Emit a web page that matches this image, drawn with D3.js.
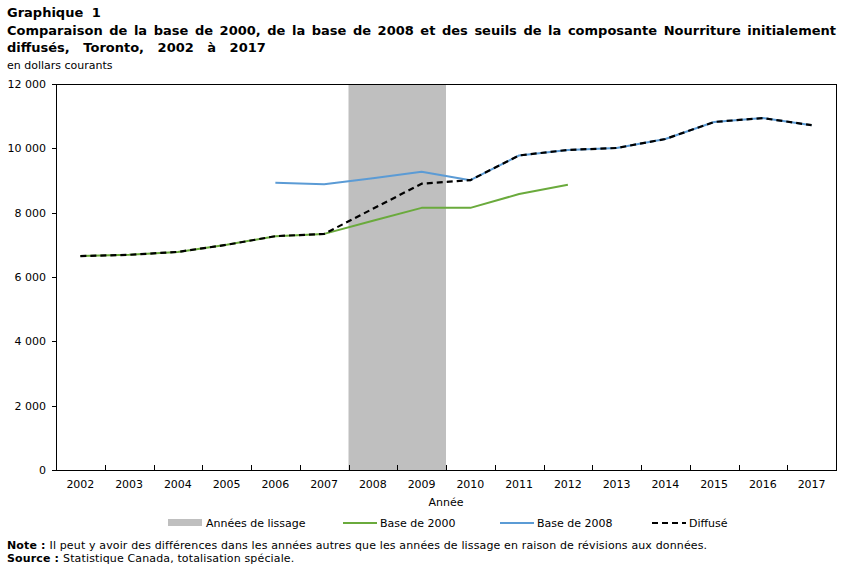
<!DOCTYPE html>
<html><head><meta charset="utf-8">
<script src="https://cdn.jsdelivr.net/npm/d3@7/dist/d3.min.js"></script>
<style>body{margin:0;background:#fff}svg{display:block}text{font-family:"DejaVu Sans",Verdana,sans-serif}</style>
</head><body><svg id="c" width="852" height="567"></svg>
<script>
const years = [2002,2003,2004,2005,2006,2007,2008,2009,2010,2011,2012,2013,2014,2015,2016,2017];
const base2000 = [6650,6690,6780,7000,7270,7340,7750,8150,8150,8580,8870,null,null,null,null,null];
const base2008 = [null,null,null,null,8930,8880,9070,9270,9010,9780,9950,10010,10290,10820,10940,10720];
const diffuse  = [6650,6690,6780,7000,7270,7340,8120,8900,9010,9780,9950,10010,10290,10820,10940,10720];
const smoothYears = [2008,2009];
const yTicks = [0,2000,4000,6000,8000,10000,12000];

const svg = d3.select("#c");
const L=56,R=836,T=84,B=470;
const x = d3.scaleBand().domain(years).range([L,R]);
const y = d3.scaleLinear().domain([0,12000]).range([B,T]);
const fmt = v => d3.format(",")(v).replace(/,/g," ");

function justify(sel,width){
  const n=sel.node(); const len=n.getComputedTextLength();
  const spaces=(sel.text().match(/ /g)||[]).length;
  if(spaces) sel.attr("word-spacing",(width-len)/spaces);
}
svg.append("text").attr("x",7).attr("y",17).attr("font-size",13).attr("font-weight","bold").attr("word-spacing",4).text("Graphique 1");
const t2=svg.append("text").attr("x",7).attr("y",35).attr("font-size",13).attr("font-weight","bold")
  .text("Comparaison de la base de 2000, de la base de 2008 et des seuils de la composante Nourriture initialement");
justify(t2,829);
svg.append("text").attr("x",7).attr("y",52).attr("font-size",13).attr("font-weight","bold").attr("word-spacing",9).text("diffusés, Toronto, 2002 à 2017");
svg.append("text").attr("x",7).attr("y",69).attr("font-size",11).text("en dollars courants");

svg.append("rect").attr("x",x(smoothYears[0])).attr("y",T)
  .attr("width",x(smoothYears[1])+x.bandwidth()-x(smoothYears[0])).attr("height",B-T).attr("fill","#bfbfbf");

svg.append("rect").attr("x",L).attr("y",T).attr("width",R-L).attr("height",B-T).attr("fill","none").attr("stroke","#000").attr("stroke-width",1)
  .attr("shape-rendering","crispEdges");

const ya = svg.append("g").attr("transform",`translate(${L},0)`)
  .call(d3.axisLeft(y).tickValues(yTicks).tickSize(4).tickPadding(6).tickFormat(fmt));
ya.select(".domain").remove();
ya.selectAll("line").attr("shape-rendering","crispEdges");
ya.selectAll("text").attr("font-size",11).attr("font-family","DejaVu Sans").attr("fill","#000");

const xa = svg.append("g").attr("transform",`translate(0,${B})`)
  .call(d3.axisBottom(x).tickSize(0).tickPadding(10));
xa.select(".domain").remove();
xa.selectAll("text").attr("font-size",11).attr("font-family","DejaVu Sans").attr("fill","#000");
svg.append("g").selectAll("line").data(years.slice(1)).join("line")
  .attr("x1",d=>Math.round(x(d))+0.5).attr("x2",d=>Math.round(x(d))+0.5).attr("y1",B).attr("y2",B-5).attr("stroke","#000");
svg.append("text").attr("x",(L+R)/2).attr("y",506).attr("text-anchor","middle").attr("font-size",11).text("Année");

function draw(vals,color,dash,w){
  const line=d3.line().defined(d=>d!=null).x((d,i)=>x(years[i])+x.bandwidth()/2).y(d=>y(d));
  svg.append("path").datum(vals).attr("d",line).attr("fill","none").attr("stroke",color).attr("stroke-width",w)
    .attr("stroke-dasharray",dash).attr("stroke-linejoin","round");
}
draw(base2000,"#6aaa3c",null,2);
draw(base2008,"#5b9bd5",null,2);
draw(diffuse,"#000","6,4",2.2);

const lg=svg.append("g").attr("font-size",11);
const ly=523;
lg.append("rect").attr("x",168).attr("y",ly-4).attr("width",34).attr("height",7).attr("fill","#bfbfbf");
lg.append("text").attr("x",206).attr("y",ly+4).text("Années de lissage");
lg.append("line").attr("x1",343).attr("x2",377).attr("y1",ly).attr("y2",ly).attr("stroke","#6aaa3c").attr("stroke-width",2);
lg.append("text").attr("x",380).attr("y",ly+4).text("Base de 2000");
lg.append("line").attr("x1",500).attr("x2",534).attr("y1",ly).attr("y2",ly).attr("stroke","#5b9bd5").attr("stroke-width",2);
lg.append("text").attr("x",537).attr("y",ly+4).text("Base de 2008");
lg.append("line").attr("x1",652).attr("x2",686).attr("y1",ly).attr("y2",ly).attr("stroke","#000").attr("stroke-width",2).attr("stroke-dasharray","6,4");
lg.append("text").attr("x",689).attr("y",ly+4).text("Diffusé");

const f1=svg.append("text").attr("x",7).attr("y",549).attr("font-size",11).attr("letter-spacing",0.14);
f1.append("tspan").attr("font-weight","bold").text("Note : ");
f1.append("tspan").text("Il peut y avoir des différences dans les années autres que les années de lissage en raison de révisions aux données.");
const f2=svg.append("text").attr("x",7).attr("y",562).attr("font-size",11).attr("letter-spacing",0.14);
f2.append("tspan").attr("font-weight","bold").text("Source : ");
f2.append("tspan").text("Statistique Canada, totalisation spéciale.");
</script></body></html>
